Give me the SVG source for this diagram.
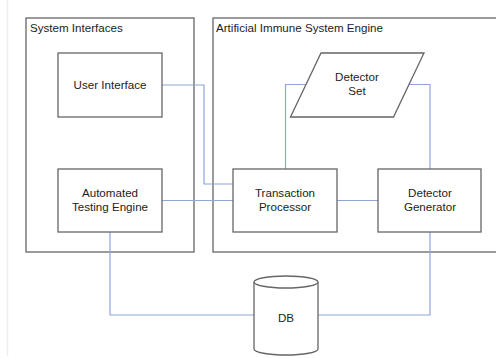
<svg xmlns="http://www.w3.org/2000/svg" width="496" height="358" viewBox="0 0 496 358">
<style>
.box{fill:#fff;stroke:#666;stroke-width:1.3}
.cont{fill:none;stroke:#666;stroke-width:1.3}
.t{font-family:"Liberation Sans",Arial,sans-serif;font-size:11.6px;fill:#222}
.c{text-anchor:middle}
.ln{fill:none;stroke:#8ea6d8;stroke-width:1.2}
</style>
<rect width="496" height="358" fill="#fff"/>
<line x1="7.5" y1="0" x2="7.5" y2="356" stroke="#eeeeee" stroke-width="1.5"/>
<g id="system-interfaces">
<rect class="cont" x="26" y="18" width="168" height="234"/>
<text class="t" x="30" y="32">System Interfaces</text>
</g>
<g id="ais-engine">
<rect class="cont" x="213" y="18" width="290" height="234"/>
<text class="t" x="216" y="32">Artificial Immune System Engine</text>
</g>
<g id="connectors">
<polyline class="ln" points="162,85 204,85 204,184 233,184"/>
<polyline class="ln" points="162,200.5 233,200.5"/>
<polyline class="ln" points="285.5,169 285.5,84.5 306,84.5"/>
<polyline class="ln" points="408,84.5 430,84.5 430,169"/>
<polyline class="ln" points="337,200.5 378,200.5"/>
<polyline class="ln" points="430,232 430,315 318,315"/>
<polyline class="ln" points="110,232 110,315 254,315"/>
</g>
<g id="user-interface">
<rect class="box" x="58" y="53" width="104" height="64"/>
<text class="t c" x="110" y="89">User Interface</text>
</g>
<g id="automated-testing-engine">
<rect class="box" x="58" y="169" width="104" height="63"/>
<text class="t c" x="110" y="197">Automated</text>
<text class="t c" x="110" y="211">Testing Engine</text>
</g>
<g id="detector-set">
<polygon class="box" points="321,53 424,53 393.5,117 290.5,117"/>
<text class="t c" x="357" y="81">Detector</text>
<text class="t c" x="357" y="95">Set</text>
</g>
<g id="transaction-processor">
<rect class="box" x="233" y="169" width="104" height="63"/>
<text class="t c" x="285" y="197">Transaction</text>
<text class="t c" x="285" y="211">Processor</text>
</g>
<g id="detector-generator">
<rect class="box" x="378" y="169" width="103" height="63"/>
<text class="t c" x="430" y="197">Detector</text>
<text class="t c" x="430" y="211">Generator</text>
</g>
<g id="db">
<path class="box" d="M254,282 L254,349 A32,6 0 0 0 318,349 L318,282 A32,6 0 0 0 254,282 Z"/>
<path class="box" d="M254,282 A32,6 0 0 0 318,282" fill="none"/>
<text class="t c" x="286" y="322">DB</text>
</g>
</svg>
